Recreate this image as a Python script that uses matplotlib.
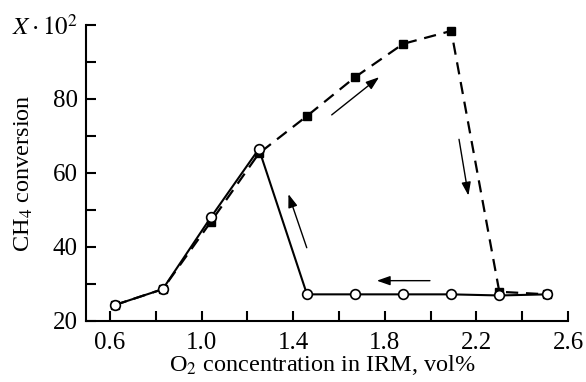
import matplotlib
matplotlib.use("Agg")
import matplotlib.pyplot as plt

plt.rcParams["font.family"] = ["Liberation Serif", "DejaVu Serif"]
plt.rcParams["mathtext.fontset"] = "stix"

# forward run (filled squares, dashed)
o2_up = [0.62, 0.83, 1.04, 1.25, 1.46, 1.67, 1.88, 2.09, 2.30, 2.51]
x_up = [24.3, 28.6, 46.8, 65.3, 75.4, 85.9, 94.9, 98.4, 27.9, 27.2]

# reverse run (open circles, solid)
o2_down = [0.62, 0.83, 1.04, 1.25, 1.46, 1.67, 1.88, 2.09, 2.30, 2.51]
x_down = [24.3, 28.6, 48.0, 66.5, 27.2, 27.2, 27.2, 27.2, 26.9, 27.2]

# direction arrows: (tail, head) in data units
arrows = [
    ((1.568, 75.7), (1.775, 85.9)),
    ((2.124, 69.1), (2.165, 53.9)),
    ((1.997, 30.9), (1.765, 30.9)),
    ((1.459, 39.8), (1.379, 54.3)),
]

yticks = [20, 30, 40, 50, 60, 70, 80, 90, 100]
ytick_labels = ["20", "", "40", "", "60", "", "80", "", r"$X\cdot10^2$"]
xticks = [0.6, 0.8, 1.0, 1.2, 1.4, 1.6, 1.8, 2.0, 2.2, 2.4, 2.6]
xtick_labels = ["0.6", "", "1.0", "", "1.4", "", "1.8", "", "2.2", "", "2.6"]

fig = plt.figure(figsize=(5.86, 3.82), dpi=100, facecolor="white")
ax = fig.add_axes([0.1468, 0.1597, 0.8225, 0.7749])

ax.plot(o2_up, x_up, color="k", lw=1.6, ls=(0, (5.5, 3.5)), marker="s",
        markersize=6, markerfacecolor="k", markeredgecolor="k", zorder=2)
ax.plot(o2_down, x_down, color="k", lw=1.5, ls="-", marker="o",
        markersize=7, markerfacecolor="white", markeredgecolor="k",
        markeredgewidth=1.2, zorder=3)

for tail, head in arrows:
    ax.annotate("", xy=head, xytext=tail,
                arrowprops=dict(arrowstyle="-|>,head_length=0.8,head_width=0.28",
                                color="k", lw=1.0, shrinkA=0, shrinkB=0))

ax.set_xlim(0.495, 2.6)
ax.set_ylim(20, 100)
ax.set_xticks(xticks)
ax.set_xticklabels(xtick_labels)
ax.set_yticks(yticks)
ax.set_yticklabels(ytick_labels)

for s in ["top", "right"]:
    ax.spines[s].set_visible(False)
for s in ["left", "bottom"]:
    ax.spines[s].set_linewidth(1.5)

ax.tick_params(direction="in", length=7, width=1.5, labelsize=18)
ax.tick_params(axis="x", pad=8)
ax.tick_params(axis="y", pad=6)
ax.set_xlabel(r"O$_2$ concentration in IRM, vol%", fontsize=17.5)
ax.set_ylabel(r"CH$_4$ conversion", fontsize=17.5)
ax.xaxis.set_label_coords(0.49, -0.108)
ax.yaxis.set_label_coords(-0.105, 0.5)

fig.savefig("out.png", dpi=100, facecolor="white")
